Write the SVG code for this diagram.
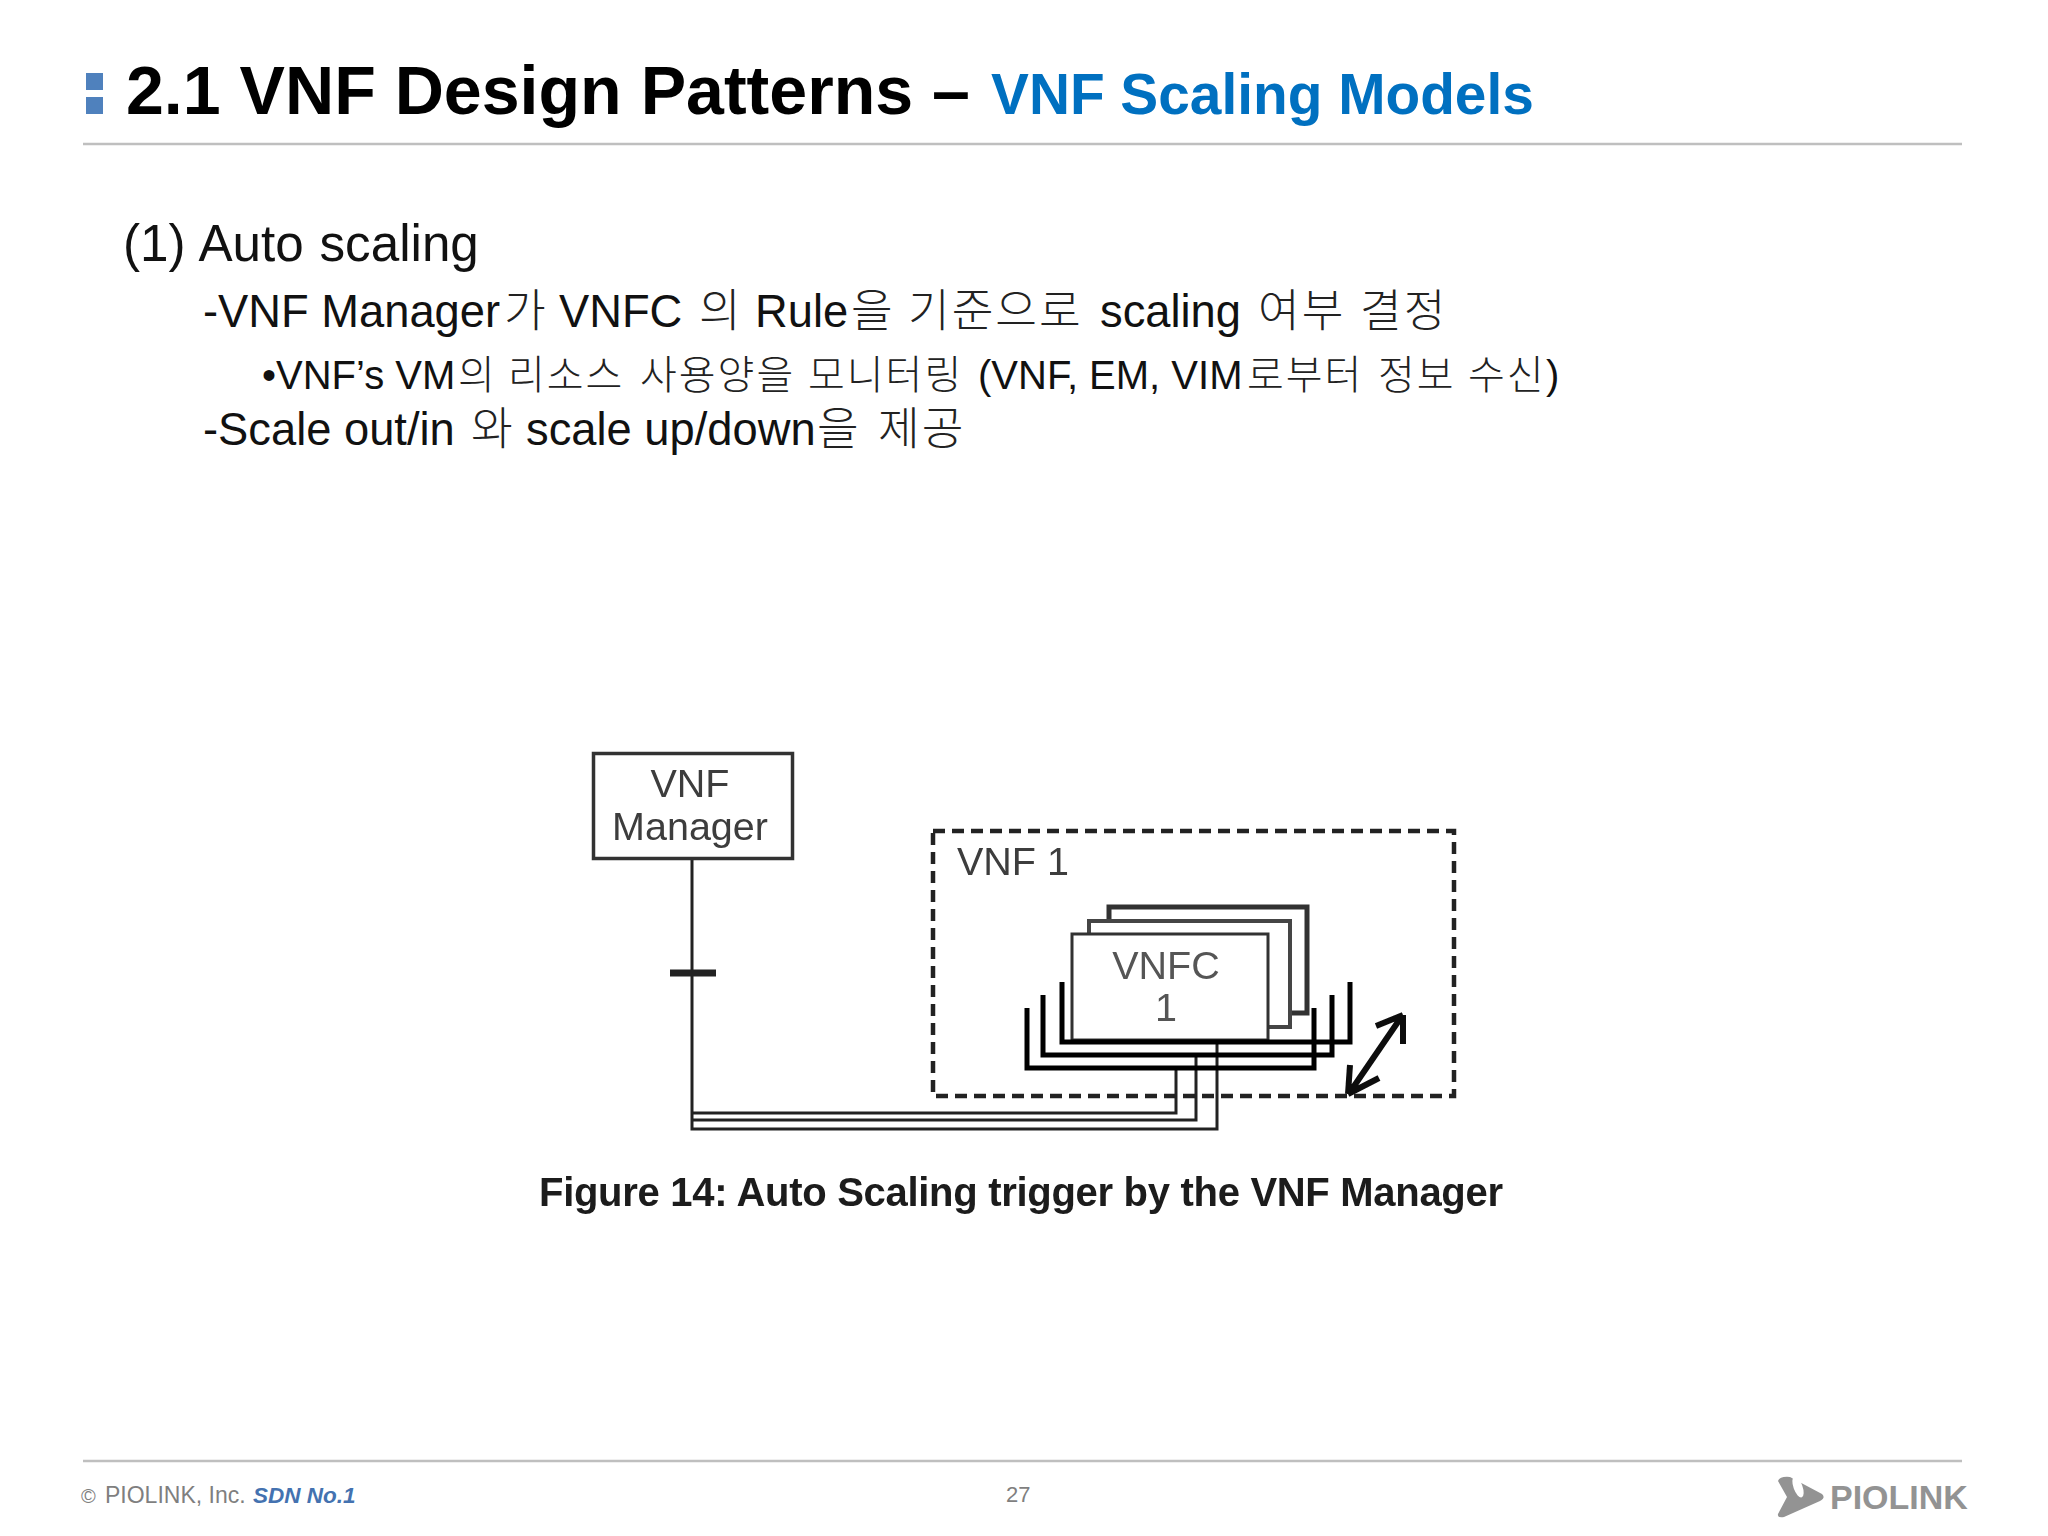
<svg xmlns="http://www.w3.org/2000/svg" width="2048" height="1536" viewBox="0 0 2048 1536">
<style>
text{font-family:"Liberation Sans","Noto Sans CJK KR",sans-serif}
.body{fill:#111}
.ko{font-family:"Noto Sans CJK KR",sans-serif;font-weight:300;letter-spacing:2px;fill:#222}
.dia{fill:#3c3c3c;font-size:39.500px;text-anchor:middle}
.box{fill:#fff;stroke:#333;stroke-width:3}
.u{fill:none;stroke:#000;stroke-width:5}
.conn{fill:none;stroke:#222;stroke-width:3}
.rule{stroke:#bfbfbf;stroke-width:2.500}
</style>
<defs><filter id="soft" x="-5%" y="-5%" width="110%" height="110%"><feGaussianBlur stdDeviation="0.7"/></filter></defs>
<rect width="2048" height="1536" fill="#fff"/>
<g id="header">
<rect x="86" y="73" width="17" height="17" fill="#4f81bd"/>
<rect x="86" y="97" width="17" height="17" fill="#4f81bd"/>
<text x="126" y="114" font-size="68.100" font-weight="700" fill="#000">2.1 VNF Design Patterns –</text>
<text x="991" y="114" font-size="56.800" font-weight="700" fill="#0070c0">VNF Scaling Models</text>
<line class="rule" x1="83" y1="144" x2="1962" y2="144"/>
</g>
<g id="body-text">
<text class="body" x="123" y="261" font-size="51.200" word-spacing="1.500">(1) Auto scaling</text>
<text class="body" y="327" font-size="45.300"><tspan x="203">-VNF Manager</tspan><tspan class="ko" x="504">가</tspan><tspan x="559">VNFC</tspan><tspan class="ko" x="699">의</tspan><tspan x="755">Rule</tspan><tspan class="ko" x="851">을</tspan><tspan class="ko" x="908">기준으로</tspan><tspan x="1100">scaling</tspan><tspan class="ko" x="1258">여부</tspan><tspan class="ko" x="1360">결정</tspan></text>
<text class="body" y="389" font-size="40"><tspan x="262">•VNF’s VM</tspan><tspan class="ko" x="458">의</tspan><tspan class="ko" x="508">리소스</tspan><tspan class="ko" x="640">사용양을</tspan><tspan class="ko" x="808">모니터링</tspan><tspan x="978">(VNF, EM, VIM</tspan><tspan class="ko" x="1247">로부터</tspan><tspan class="ko" x="1378">정보</tspan><tspan class="ko" x="1468">수신</tspan><tspan x="1546">)</tspan></text>
<text class="body" y="445" font-size="45.300"><tspan x="203">-Scale out/in</tspan><tspan class="ko" x="471">와</tspan><tspan x="526">scale up/down</tspan><tspan class="ko" x="817">을</tspan><tspan class="ko" x="878">제공</tspan></text>
</g>
<g filter="url(#soft)">
<g id="connectors">
<path class="conn" d="M692 859V1129H1217V1042"/>
<path class="conn" d="M692 1120H1196V1055"/>
<path class="conn" d="M692 1113H1176V1068"/>
<line x1="670" y1="973" x2="716" y2="973" stroke="#222" stroke-width="7"/>
<path d="M1350 1092L1402 1016M1403 1015L1376 1026M1403 1015L1403 1044M1348 1094L1379 1078M1348 1094L1350 1065" fill="none" stroke="#111" stroke-width="6"/>
</g>
<g id="vnf-manager">
<rect class="box" x="593.500" y="753.500" width="199" height="105" style="stroke-width:3.500"/>
<text class="dia" x="690" y="797">VNF</text>
<text class="dia" x="690" y="840">Manager</text>
</g>
<g id="vnf-1">
<rect x="933" y="831" width="521" height="265" fill="none" stroke="#222" stroke-width="4.500" stroke-dasharray="12 7"/>
<text class="dia" x="957" y="875" style="text-anchor:start">VNF 1</text>
</g>
<g id="vnfc-1">
<path class="u" d="M1109 921V907H1307V1013H1290" style="stroke:#333"/>
<path class="u" d="M1089 934V921H1290V1027H1268" style="stroke:#444;stroke-width:4"/>
<rect class="box" x="1072" y="934" width="196" height="106"/>
<text class="dia" x="1166" y="979" style="fill:#555">VNFC</text>
<text class="dia" x="1166" y="1021" style="fill:#555">1</text>
<path class="u" d="M1062 982V1042H1350V982"/>
<path class="u" d="M1043 995V1055H1332V995"/>
<path class="u" d="M1027 1008V1068H1314V1008"/>
</g>
<text id="caption" x="539" y="1206" font-size="40" font-weight="700" fill="#1a1a1a" textLength="964">Figure 14: Auto Scaling trigger by the VNF Manager</text>
</g>
<g id="footer">
<line class="rule" x1="83" y1="1461" x2="1962" y2="1461"/>
<text x="81" y="1503" font-size="20" fill="#7f7f7f">©</text>
<text x="105" y="1503" font-size="23" fill="#7f7f7f">PIOLINK, Inc.</text>
<text x="253" y="1503" font-size="22.500" font-weight="700" font-style="italic" fill="#4472b0">SDN No.1</text>
<text x="1006" y="1502" font-size="22" fill="#7f7f7f">27</text>
<path d="M1778 1481Q1780 1476 1790 1477L1822 1494Q1826 1498 1820 1501L1784 1517Q1777 1518 1778 1514L1787 1497Z" fill="#939393"/>
<ellipse cx="1798" cy="1487" rx="4.500" ry="11" transform="rotate(-20 1798 1487)" fill="#fff"/>
<text x="1830" y="1509" font-size="34" font-weight="700" fill="#939393">PIOLINK</text>
</g>
</svg>
